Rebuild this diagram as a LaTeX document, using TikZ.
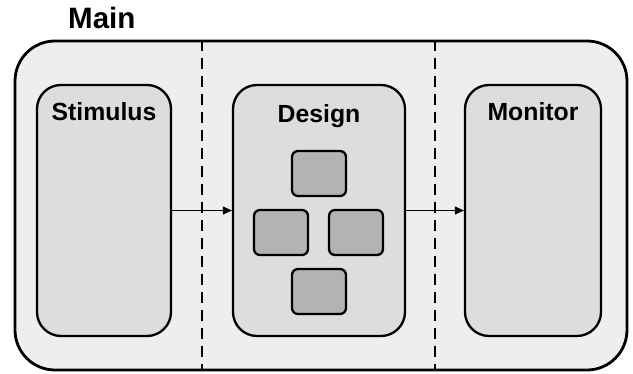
\documentclass[tikz,border=0pt]{standalone}
\usepackage{fontspec}
\setmainfont{Liberation Sans}
\usetikzlibrary{arrows.meta,calc}

\definecolor{mainfill}{HTML}{EEEEEE}
\definecolor{blockfill}{HTML}{DDDDDD}
\definecolor{cellfill}{HTML}{B3B3B3}

\tikzset{
    block/.style={draw, line width=2.3pt, fill=blockfill, rounded corners=24pt,
        minimum width=#1, minimum height=251pt, inner sep=0pt},
    blocktitle/.style={anchor=north, inner sep=0pt, yshift=-18pt,
        font=\bfseries\fontsize{24.8pt}{27pt}\selectfont},
    cell/.style={draw, line width=2.3pt, fill=cellfill, rounded corners=6pt,
        minimum width=54pt, minimum height=45pt, inner sep=0pt},
    divider/.style={line width=2.2pt, dash pattern=on 11pt off 7pt},
    flow/.style={line width=1pt, -{Triangle[length=9pt,width=8pt]}}
}

\begin{document}
\begin{tikzpicture}[x=1pt,y=-1pt]
    \useasboundingbox (0,0) rectangle (633,374);
    % outer box
    \node[draw, line width=2.8pt, fill=mainfill, rounded corners=40pt,
        minimum width=612pt, minimum height=329pt] (main) at (321,205.5) {};
    \node[anchor=base west, inner sep=0pt,
        font=\bfseries\fontsize{29.5pt}{32pt}\selectfont] (maintitle) at (68,29) {Main};
    % the three blocks
    \node[block=134pt] (stim) at (104,210.5) {};
    \node[block=172pt] (design) at (319,210.5) {};
    \node[block=136pt] (mon) at (533,210.5) {};
    \node[blocktitle] (stimtitle) at (stim.north) {Stimulus};
    \node[blocktitle, yshift=-2pt] (designtitle) at (design.north) {Design};
    \node[blocktitle] (montitle) at (mon.north) {Monitor};
    % cells inside the design
    \node[cell] (celltop) at (319,173.5) {};
    \node[cell] (cellleft) at (281,232.5) {};
    \node[cell] (cellright) at (356,232.5) {};
    \node[cell] (cellbottom) at (319,291.5) {};
    % dashed dividers
    \coordinate (gapa) at ($(stim.east)!0.5!(design.west)$);
    \coordinate (gapb) at ($(design.east)!0.5!(mon.west)$);
    \draw[divider] (gapa |- main.north) -- (gapa |- main.south);
    \draw[divider] (gapb |- main.north) -- (gapb |- main.south);
    % connections
    \draw[flow] (stim) -- (design);
    \draw[flow] (design) -- (mon);
\end{tikzpicture}
\end{document}
